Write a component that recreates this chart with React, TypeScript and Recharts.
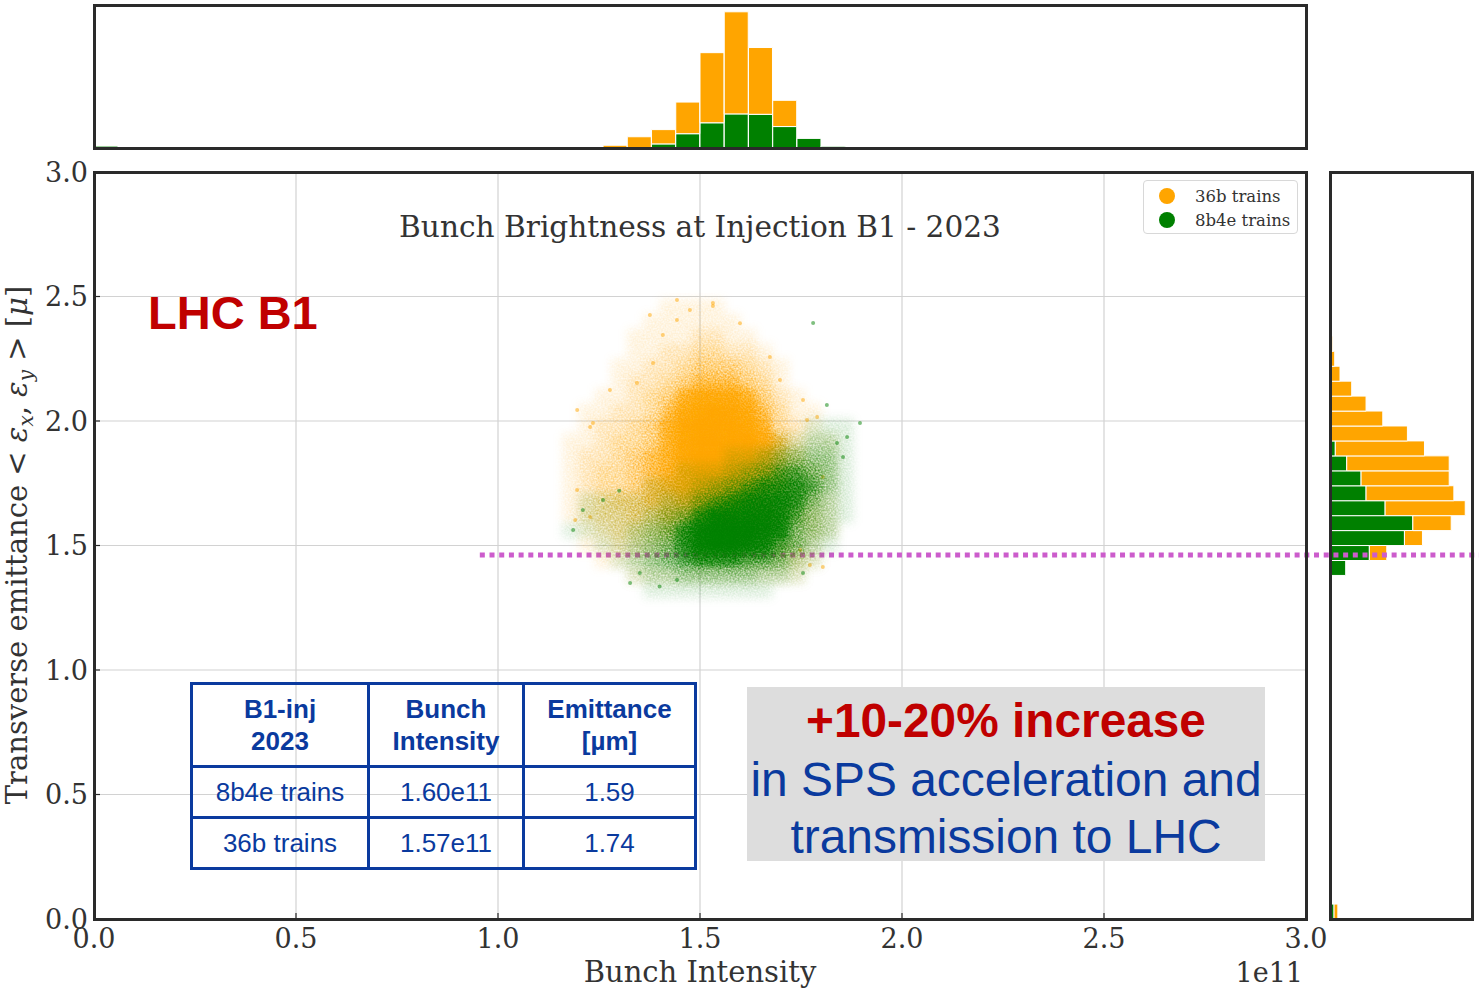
import React from 'react';
import {
  ScatterChart,
  Scatter,
  XAxis,
  YAxis,
  CartesianGrid,
  ReferenceLine,
  Legend,
  BarChart,
  Bar,
} from 'recharts';

// ---------- palette & fonts ----------
const ORANGE = '#ffa500';
const GREEN = '#008000';
const INK = '#333333';
const SPINE = '#2a2a2a';
const GRID = '#d2d2d2';
const DOTTED = '#cc5ccc';
const RED = '#c00000';
const BLUE = '#0a3a9e';
const SERIF = '"DejaVu Serif", serif';
const SANS = '"Liberation Sans", Arial, sans-serif';

const SERIES_36B = '36b trains';
const SERIES_8B4E = '8b4e trains';

// ---------- axes ----------
const axisTicks = [0, 0.5, 1, 1.5, 2, 2.5, 3];
const innerTicks = [0.5, 1, 1.5, 2, 2.5];
const AXIS_DOMAIN: [number, number] = [0, 3];
const LIMIT_EMITTANCE = 1.462; // reference emittance level (µm)
const LIMIT_FROM = 0.955; // intensity where the reference level starts (1e11)

// ---------- scatter density maps (bunch intensity x emittance) ----------
const gridIntensity = [1.18, 1.22, 1.26, 1.3, 1.34, 1.38, 1.42, 1.46, 1.5, 1.54, 1.58, 1.62, 1.66, 1.7, 1.74, 1.78, 1.82, 1.86, 1.9];
const gridEmittance = [2.46, 2.4, 2.34, 2.28, 2.22, 2.16, 2.1, 2.04, 1.98, 1.92, 1.86, 1.8, 1.74, 1.68, 1.62, 1.56, 1.5, 1.44, 1.38, 1.32];

const density36b = [
  [0, 0, 0, 0, 0, 0, 1, 1, 1, 1, 0, 0, 0, 0, 0, 0, 0, 0, 0],
  [0, 0, 0, 0, 0, 1, 1, 1, 1, 1, 1, 0, 0, 0, 0, 0, 0, 0, 0],
  [0, 0, 0, 0, 1, 1, 1, 1, 2, 2, 1, 1, 0, 0, 0, 0, 0, 0, 0],
  [0, 0, 0, 0, 1, 1, 2, 2, 3, 3, 2, 2, 1, 0, 0, 0, 0, 0, 0],
  [0, 0, 0, 1, 1, 2, 2, 3, 4, 4, 4, 3, 2, 1, 0, 0, 0, 0, 0],
  [0, 0, 0, 1, 2, 2, 3, 4, 5, 5, 5, 4, 3, 1, 0, 0, 0, 0, 0],
  [0, 0, 1, 1, 2, 3, 4, 6, 7, 7, 7, 6, 4, 2, 1, 0, 0, 0, 0],
  [0, 1, 1, 2, 2, 3, 5, 7, 8, 9, 8, 7, 5, 3, 1, 1, 0, 0, 0],
  [0, 1, 2, 2, 3, 4, 6, 8, 9, 9, 9, 8, 6, 3, 2, 1, 0, 0, 0],
  [1, 1, 2, 3, 3, 4, 6, 8, 9, 9, 9, 9, 7, 5, 2, 1, 1, 0, 0],
  [1, 2, 2, 3, 4, 5, 6, 8, 9, 9, 9, 9, 7, 5, 3, 1, 1, 0, 0],
  [1, 2, 3, 3, 4, 5, 6, 7, 9, 9, 9, 8, 7, 5, 3, 2, 1, 0, 0],
  [1, 2, 3, 3, 4, 5, 6, 7, 8, 8, 8, 7, 6, 5, 3, 2, 1, 0, 0],
  [1, 2, 3, 4, 4, 5, 5, 6, 7, 7, 7, 6, 5, 4, 3, 2, 1, 0, 0],
  [1, 2, 3, 3, 4, 4, 5, 5, 6, 6, 6, 5, 5, 4, 3, 2, 1, 0, 0],
  [0, 1, 2, 3, 3, 3, 4, 4, 4, 4, 4, 4, 4, 3, 2, 2, 1, 0, 0],
  [0, 1, 1, 2, 2, 2, 2, 2, 3, 3, 3, 3, 3, 3, 2, 1, 0, 0, 0],
  [0, 0, 1, 1, 1, 1, 1, 1, 2, 2, 2, 2, 2, 2, 2, 1, 0, 0, 0],
  [0, 0, 0, 0, 1, 1, 1, 1, 1, 1, 1, 1, 1, 1, 1, 0, 0, 0, 0],
  [0, 0, 0, 0, 0, 0, 0, 0, 0, 0, 0, 0, 0, 0, 0, 0, 0, 0, 0],
];

const density8b4e = [
  [0, 0, 0, 0, 0, 0, 0, 0, 0, 0, 0, 0, 0, 0, 0, 0, 0, 0, 0],
  [0, 0, 0, 0, 0, 0, 0, 0, 0, 0, 0, 0, 0, 0, 0, 0, 0, 0, 0],
  [0, 0, 0, 0, 0, 0, 0, 0, 0, 0, 0, 0, 0, 0, 0, 0, 0, 0, 0],
  [0, 0, 0, 0, 0, 0, 0, 0, 0, 0, 0, 0, 0, 0, 0, 0, 0, 0, 0],
  [0, 0, 0, 0, 0, 0, 0, 0, 0, 0, 0, 0, 0, 0, 0, 0, 0, 0, 0],
  [0, 0, 0, 0, 0, 0, 0, 0, 0, 0, 0, 0, 0, 0, 0, 0, 0, 0, 0],
  [0, 0, 0, 0, 0, 0, 0, 0, 0, 0, 0, 0, 0, 0, 0, 0, 0, 0, 0],
  [0, 0, 0, 0, 0, 0, 0, 0, 0, 0, 0, 0, 0, 0, 0, 0, 0, 0, 0],
  [0, 0, 0, 0, 0, 0, 0, 0, 0, 0, 0, 0, 0, 0, 0, 1, 1, 1, 0],
  [0, 0, 0, 0, 0, 0, 0, 0, 0, 0, 0, 0, 0, 1, 1, 2, 2, 1, 0],
  [0, 0, 0, 0, 0, 0, 0, 0, 0, 0, 1, 1, 2, 3, 3, 3, 3, 1, 0],
  [0, 0, 0, 0, 0, 0, 0, 1, 1, 1, 2, 3, 4, 5, 5, 4, 3, 1, 0],
  [0, 0, 0, 0, 0, 1, 1, 1, 2, 3, 4, 5, 6, 6, 6, 5, 3, 1, 0],
  [0, 1, 1, 1, 1, 1, 2, 2, 4, 5, 6, 7, 7, 7, 6, 4, 2, 1, 0],
  [0, 1, 1, 1, 1, 2, 3, 4, 6, 8, 8, 8, 8, 7, 5, 3, 2, 1, 0],
  [1, 1, 1, 1, 2, 3, 4, 6, 8, 9, 9, 9, 8, 7, 4, 3, 2, 0, 0],
  [0, 0, 1, 1, 2, 3, 4, 6, 8, 9, 9, 8, 7, 5, 4, 2, 1, 0, 0],
  [0, 0, 0, 1, 2, 3, 4, 5, 6, 6, 6, 5, 5, 4, 2, 1, 0, 0, 0],
  [0, 0, 0, 0, 1, 2, 2, 3, 3, 3, 3, 3, 2, 2, 1, 0, 0, 0, 0],
  [0, 0, 0, 0, 0, 1, 1, 1, 1, 1, 1, 1, 1, 0, 0, 0, 0, 0, 0],
];

// isolated bunches on the edge of each cloud: [intensity, emittance]
const stray36b = [
  [1.376, 2.426], [1.475, 2.446], [1.532, 2.462], [1.408, 2.345], [1.599, 2.393],
  [1.673, 2.257], [1.384, 2.233], [1.277, 2.124], [1.344, 2.153], [1.698, 2.165],
  [1.755, 2.084], [1.228, 1.976], [1.196, 2.044], [1.79, 2.016], [1.443, 2.406],
  [1.196, 1.723], [1.228, 1.614], [1.804, 1.414], [1.772, 1.422], [1.748, 1.482],
  [1.443, 2.486], [1.532, 2.474], [1.235, 1.992], [1.191, 1.602], [1.804, 1.775],
  [1.765, 2.004],
];
const stray8b4e = [
  [1.186, 1.562], [1.21, 1.643], [1.26, 1.683], [1.327, 1.349], [1.351, 1.39],
  [1.443, 1.361], [1.854, 1.855], [1.839, 1.912], [1.755, 1.39], [1.78, 2.394],
  [1.814, 2.064], [1.896, 1.992], [1.864, 1.936], [1.3, 1.72], [1.4, 1.335],
];

// ---------- marginal histograms (50 bins of 0.06 over 0..3) ----------
const BIN_WIDTH = 0.06;
const BIN_COUNT = 50;

const intensityBinStart = [0.0, 1.26, 1.32, 1.38, 1.44, 1.5, 1.56, 1.62, 1.68, 1.74, 1.8];
const intensityCount8b4e = [90, 0, 0, 174, 609, 1074, 1453, 1436, 914, 409, 74];
const intensityCount36b = [20, 117, 479, 609, 1349, 2988, 4350, 2845, 1118, 0, 0];

const emittanceBinStart = [0.0, 1.38, 1.44, 1.5, 1.56, 1.62, 1.68, 1.74, 1.8, 1.86, 1.92, 1.98, 2.04, 2.1, 2.16, 2.22, 2.28];
const emittanceCount8b4e = [75, 290, 727, 1375, 1530, 1018, 666, 574, 309, 98, 0, 0, 0, 0, 0, 0, 0];
const emittanceCount36b = [70, 0, 322, 333, 709, 1480, 1622, 1628, 1893, 1647, 1430, 975, 666, 401, 185, 87, 50];

// ---------- summary table ----------
const tableHeader = [['B1-inj', '2023'], ['Bunch', 'Intensity'], ['Emittance', '[µm]']];
const tableTrains = ['8b4e trains', '36b trains'];
const tableIntensity = ['1.60e11', '1.57e11'];
const tableEmittance = ['1.59', '1.74'];

// ---------- layout ----------
const PAGE_W = 1479;
const PAGE_H = 990;
const PLOT = { left: 94, top: 172, width: 1212, height: 747 };
const TOP_HIST = { left: 94, top: 5, width: 1212, height: 143 };
const SIDE_HIST = { left: 1330, top: 172, width: 142, height: 747 };

const CELL_W = (PLOT.width / 3) * (gridIntensity[1] - gridIntensity[0]);
const CELL_H = (PLOT.height / 3) * (gridEmittance[0] - gridEmittance[1]);
const cloudAlpha = [0, 0.12, 0.25, 0.38, 0.52, 0.65, 0.77, 0.88, 0.95, 1];

const cloudCells = (grid: number[][]) => {
  const cells: { x: number; y: number; d: number }[] = [];
  grid.forEach((row, r) =>
    row.forEach((d, c) => {
      if (d > 0) cells.push({ x: gridIntensity[c], y: gridEmittance[r], d });
    })
  );
  return cells;
};

const toPoints = (pts: number[][]) => pts.map(([x, y]) => ({ x, y }));

const buildHist = (starts: number[], green: number[], orange: number[]) =>
  Array.from({ length: BIN_COUNT }, (_, i) => {
    const start = +(i * BIN_WIDTH).toFixed(2);
    const k = starts.findIndex((s) => Math.abs(s - start) < 1e-6);
    return { start, g: k >= 0 ? green[k] : 0, o: k >= 0 ? orange[k] : 0 };
  });

const intensityHist = buildHist(intensityBinStart, intensityCount8b4e, intensityCount36b);
const emittanceHist = buildHist(emittanceBinStart, emittanceCount8b4e, emittanceCount36b);
const histMax = (h: { g: number; o: number }[]) => Math.max(...h.map((b) => b.g + b.o)) * 1.05;

const cellShape = (color: string) => (props: any) => {
  const { cx, cy, payload } = props;
  return (
    <rect
      x={cx - CELL_W / 2}
      y={cy - CELL_H / 2}
      width={CELL_W}
      height={CELL_H}
      fill={color}
      fillOpacity={cloudAlpha[payload.d]}
    />
  );
};

const dotShape = (color: string) => (props: any) => (
  <circle cx={props.cx} cy={props.cy} r={2} fill={color} fillOpacity={0.5} />
);

const LegendBox = (props: any) => {
  const items = (props.payload || []).filter((p: any) => p.type !== 'none');
  return (
    <div
      style={{
        width: 155,
        height: 54,
        boxSizing: 'border-box',
        border: '1px solid #d8d8d8',
        borderRadius: 4,
        background: 'rgba(255,255,255,0.85)',
        paddingTop: 3,
      }}
    >
      {items.map((p: any) => (
        <div
          key={p.value}
          style={{ display: 'flex', alignItems: 'center', height: 24, fontFamily: SERIF, fontSize: 16.5, color: INK }}
        >
          <span
            style={{ display: 'inline-block', width: 16, height: 16, borderRadius: '50%', background: p.color, marginLeft: 15, marginRight: 20 }}
          />
          <span>{p.value}</span>
        </div>
      ))}
    </div>
  );
};

const frame = (box: { left: number; top: number; width: number; height: number }): React.CSSProperties => ({
  position: 'absolute',
  left: box.left - 1.5,
  top: box.top - 1.5,
  width: box.width + 3,
  height: box.height + 3,
  border: `3px solid ${SPINE}`,
  boxSizing: 'border-box',
  pointerEvents: 'none',
});

const tickFont = { fill: INK, fontSize: 27, fontFamily: SERIF };

export default function App() {
  const cellStyle: React.CSSProperties = {
    border: `3px solid ${BLUE}`,
    textAlign: 'center',
    verticalAlign: 'middle',
    padding: 0,
  };
  return (
    <div style={{ position: 'absolute', left: 0, top: 0, width: PAGE_W, height: PAGE_H, background: '#fff', overflow: 'hidden' }}>
      <style>{'.cloud-blur { filter: url(#cloud-soft); }'}</style>
      <svg width={0} height={0} style={{ position: 'absolute' }}>
        <defs>
          {/* soft density cloud: speckled where sparse, solid where the markers pile up */}
          <filter id="cloud-soft" x="-20%" y="-20%" width="140%" height="140%" colorInterpolationFilters="sRGB">
            <feGaussianBlur in="SourceGraphic" stdDeviation={5} result="soft" />
            <feTurbulence type="fractalNoise" baseFrequency={0.6} numOctaves={1} seed={7} result="noise" />
            <feColorMatrix
              in="noise"
              type="matrix"
              values="0 0 0 0 1  0 0 0 0 1  0 0 0 0 1  1 0 0 0 0"
              result="grain"
            />
            <feComposite in="soft" in2="grain" operator="arithmetic" k1={2.0} k2={-0.05} k3={0} k4={0} result="speckle" />
            <feComponentTransfer in="soft" result="core">
              <feFuncA type="linear" slope={2.2} intercept={-1.2} />
            </feComponentTransfer>
            <feMerge>
              <feMergeNode in="speckle" />
              <feMergeNode in="core" />
            </feMerge>
          </filter>
        </defs>
      </svg>

      {/* intensity histogram (top) */}
      <div style={{ position: 'absolute', left: TOP_HIST.left, top: TOP_HIST.top }}>
        <BarChart
          width={TOP_HIST.width}
          height={TOP_HIST.height}
          data={intensityHist}
          margin={{ top: 0, right: 0, bottom: 0, left: 0 }}
          barCategoryGap={0}
          barGap={0}
        >
          <XAxis dataKey="start" type="category" hide height={0} />
          <XAxis
            xAxisId="ticks"
            type="number"
            domain={AXIS_DOMAIN}
            ticks={innerTicks}
            allowDataOverflow
            height={0}
            axisLine={false}
            tick={false}
            tickSize={-6}
            tickLine={{ stroke: SPINE, strokeWidth: 1.2 }}
            interval={0}
          />
          <YAxis type="number" domain={[0, histMax(intensityHist)]} hide width={0} />
          <Bar dataKey="g" stackId="s" fill={GREEN} stroke="#fff" strokeWidth={1} isAnimationActive={false} />
          <Bar dataKey="o" stackId="s" fill={ORANGE} stroke="#fff" strokeWidth={1} isAnimationActive={false} />
        </BarChart>
      </div>

      {/* emittance histogram (right) */}
      <div style={{ position: 'absolute', left: SIDE_HIST.left, top: SIDE_HIST.top }}>
        <BarChart
          layout="vertical"
          width={SIDE_HIST.width}
          height={SIDE_HIST.height}
          data={emittanceHist}
          margin={{ top: 0, right: 0, bottom: 0, left: 0 }}
          barCategoryGap={0}
          barGap={0}
        >
          <YAxis dataKey="start" type="category" hide reversed width={0} />
          <YAxis
            yAxisId="ticks"
            type="number"
            domain={AXIS_DOMAIN}
            ticks={innerTicks}
            allowDataOverflow
            width={0}
            axisLine={false}
            tick={false}
            tickSize={-6}
            tickLine={{ stroke: SPINE, strokeWidth: 1.2 }}
            interval={0}
          />
          <XAxis type="number" domain={[0, histMax(emittanceHist)]} hide height={0} />
          <Bar dataKey="g" stackId="s" fill={GREEN} stroke="#fff" strokeWidth={1} isAnimationActive={false} />
          <Bar dataKey="o" stackId="s" fill={ORANGE} stroke="#fff" strokeWidth={1} isAnimationActive={false} />
        </BarChart>
      </div>

      {/* main scatter */}
      <div style={{ position: 'absolute', left: 0, top: 0 }}>
        <ScatterChart
          width={PAGE_W}
          height={PAGE_H}
          margin={{ top: PLOT.top, right: PAGE_W - PLOT.left - PLOT.width, bottom: 0, left: 0 }}
        >
          <CartesianGrid stroke={GRID} strokeWidth={1.2} />
          <XAxis
            type="number"
            dataKey="x"
            domain={AXIS_DOMAIN}
            ticks={axisTicks}
            allowDataOverflow
            interval={0}
            height={PAGE_H - PLOT.top - PLOT.height}
            axisLine={false}
            tickSize={-6}
            tickMargin={16}
            tickLine={{ stroke: SPINE, strokeWidth: 1.2 }}
            tick={tickFont}
            tickFormatter={(v: number) => v.toFixed(1)}
            label={{ value: 'Bunch Intensity', position: 'insideBottom', offset: 8, fill: INK, fontSize: 29, fontFamily: SERIF }}
          />
          <YAxis
            type="number"
            dataKey="y"
            domain={AXIS_DOMAIN}
            ticks={axisTicks}
            allowDataOverflow
            interval={0}
            width={PLOT.left}
            axisLine={false}
            tickSize={-6}
            tickMargin={12}
            tickLine={{ stroke: SPINE, strokeWidth: 1.2 }}
            tick={tickFont}
            tickFormatter={(v: number) => v.toFixed(1)}
          />
          <Scatter
            name={SERIES_36B}
            data={cloudCells(density36b)}
            fill={ORANGE}
            className="cloud-blur"
            shape={cellShape(ORANGE)}
            isAnimationActive={false}
          />
          <Scatter data={toPoints(stray36b)} fill={ORANGE} legendType="none" shape={dotShape(ORANGE)} isAnimationActive={false} />
          <Scatter
            name={SERIES_8B4E}
            data={cloudCells(density8b4e)}
            fill={GREEN}
            className="cloud-blur"
            shape={cellShape(GREEN)}
            isAnimationActive={false}
          />
          <Scatter data={toPoints(stray8b4e)} fill={GREEN} legendType="none" shape={dotShape(GREEN)} isAnimationActive={false} />
          <ReferenceLine
            segment={[
              { x: LIMIT_FROM, y: LIMIT_EMITTANCE },
              { x: (PAGE_W - PLOT.left) / (PLOT.width / 3), y: LIMIT_EMITTANCE },
            ]}
            stroke={DOTTED}
            strokeWidth={5}
            strokeDasharray="5 4.7"
            ifOverflow="visible"
          />
          <Legend
            layout="horizontal"
            align="center"
            verticalAlign="middle"
            content={LegendBox}
            wrapperStyle={{ left: 1143, top: 180, width: 155, height: 54 }}
          />
        </ScatterChart>
      </div>

      {/* summary table */}
      <table
        style={{
          position: 'absolute',
          left: 190,
          top: 682,
          width: 506,
          borderCollapse: 'collapse',
          tableLayout: 'fixed',
          fontFamily: SANS,
          fontSize: 26,
          color: BLUE,
        }}
      >
        <colgroup>
          <col style={{ width: 177 }} />
          <col style={{ width: 155 }} />
          <col style={{ width: 172 }} />
        </colgroup>
        <tbody>
          <tr style={{ height: 83 }}>
            {tableHeader.map((lines) => (
              <th key={lines[0]} style={{ ...cellStyle, fontWeight: 700, lineHeight: '32px' }}>
                {lines[0]}
                <br />
                {lines[1]}
              </th>
            ))}
          </tr>
          {tableTrains.map((name, i) => (
            <tr key={name} style={{ height: 51 }}>
              <td style={cellStyle}>{name}</td>
              <td style={cellStyle}>{tableIntensity[i]}</td>
              <td style={cellStyle}>{tableEmittance[i]}</td>
            </tr>
          ))}
        </tbody>
      </table>

      {/* titles and annotations */}
      <svg width={PAGE_W} height={PAGE_H} style={{ position: 'absolute', left: 0, top: 0, pointerEvents: 'none' }}>
        <text x={700} y={237} textAnchor="middle" fontFamily={SERIF} fontSize={29.6} fill={INK}>
          Bunch Brightness at Injection B1 - 2023
        </text>
        <text x={1303} y={982} textAnchor="end" fontFamily={SERIF} fontSize={27} fill={INK}>
          1e11
        </text>
        <text transform="translate(27 545) rotate(-90)" textAnchor="middle" fontFamily={SERIF} fontSize={29} fill={INK}>
          <tspan>{'Transverse emittance  < '}</tspan>
          <tspan fontStyle="italic">ε</tspan>
          <tspan fontStyle="italic" fontSize={20} dy={6}>x</tspan>
          <tspan dy={-6}>{', '}</tspan>
          <tspan fontStyle="italic">ε</tspan>
          <tspan fontStyle="italic" fontSize={20} dy={6}>y</tspan>
          <tspan dy={-6}>{' >  ['}</tspan>
          <tspan fontStyle="italic">μ</tspan>
          <tspan>]</tspan>
        </text>
        <text x={148} y={329} fontFamily={SANS} fontWeight={700} fontSize={47} fill={RED}>
          LHC B1
        </text>
        <rect x={747} y={687} width={518} height={174} fill="#dddddd" />
        <text x={1006} y={737} textAnchor="middle" fontFamily={SANS} fontWeight={700} fontSize={47.8} fill={RED}>
          +10-20% increase
        </text>
        <text x={1006} y={796} textAnchor="middle" fontFamily={SANS} fontSize={47.9} fill={BLUE}>
          in SPS acceleration and
        </text>
        <text x={1006} y={853} textAnchor="middle" fontFamily={SANS} fontSize={47.9} fill={BLUE}>
          transmission to LHC
        </text>
      </svg>

      {/* axes frames */}
      <div style={frame(TOP_HIST)} />
      <div style={frame(PLOT)} />
      <div style={frame(SIDE_HIST)} />
    </div>
  );
}
